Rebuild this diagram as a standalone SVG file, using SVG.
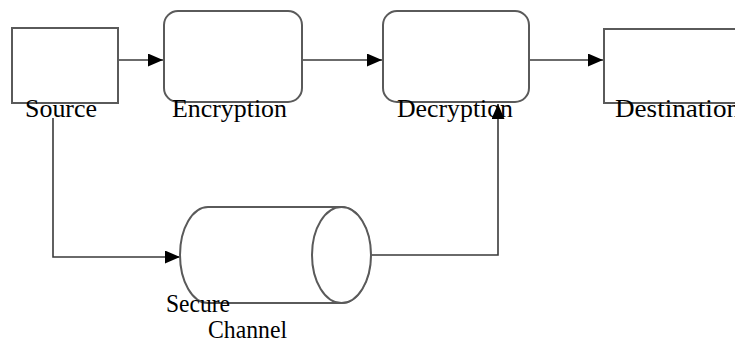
<svg xmlns="http://www.w3.org/2000/svg" width="735" height="345" viewBox="0 0 735 345">
<style>
.box{fill:#fff;stroke:#5a5a5a;stroke-width:2}
.ln{fill:none;stroke:#3a3a3a;stroke-width:1.6}
.lbl{font-family:"Liberation Serif","Times New Roman",serif;font-size:26px;fill:#000}
</style>
<defs>
<marker id="arr" markerWidth="15" markerHeight="13" refX="15" refY="6.5" orient="auto" markerUnits="userSpaceOnUse">
<path d="M0,0 L15,6.5 L0,13 Z" fill="#000"/>
</marker>
</defs>
<rect width="735" height="345" fill="#fff"/>
<g id="connectors">
<line class="ln" x1="118" y1="60" x2="163" y2="60" marker-end="url(#arr)"/>
<line class="ln" x1="302" y1="60" x2="382" y2="60" marker-end="url(#arr)"/>
<line class="ln" x1="529" y1="60" x2="603" y2="60" marker-end="url(#arr)"/>
<polyline class="ln" points="53,118 53,257 180,257" marker-end="url(#arr)"/>
<polyline class="ln" points="371,255 498,255 498,104" marker-end="url(#arr)"/>
</g>
<g id="source">
<rect class="box" x="12" y="28" width="106" height="75"/>
<text class="lbl" x="25" y="117" textLength="72" lengthAdjust="spacingAndGlyphs">Source</text>
</g>
<g id="encryption">
<rect class="box" x="164" y="11" width="138" height="91" rx="14" ry="14"/>
<text class="lbl" x="172" y="117" textLength="115" lengthAdjust="spacingAndGlyphs">Encryption</text>
</g>
<g id="decryption">
<rect class="box" x="383" y="11" width="146" height="91" rx="14" ry="14"/>
<text class="lbl" x="397" y="117" textLength="116" lengthAdjust="spacingAndGlyphs">Decryption</text>
</g>
<g id="destination">
<path class="box" d="M737,29 L604,29 L604,103 L737,103"/>
<text class="lbl" x="615" y="117" textLength="125" lengthAdjust="spacingAndGlyphs">Destination</text>
</g>
<g id="channel">
<path class="box" d="M208,207 L341,207 A29.5,48 0 0 1 341,303 L208,303 A28,48 0 0 1 208,207 Z"/>
<ellipse class="box" cx="341.5" cy="255" rx="29.5" ry="48" fill="none"/>
<text class="lbl" x="166" y="312" textLength="64" lengthAdjust="spacingAndGlyphs">Secure</text>
<text class="lbl" x="208" y="338" textLength="79" lengthAdjust="spacingAndGlyphs">Channel</text>
</g>
</svg>
